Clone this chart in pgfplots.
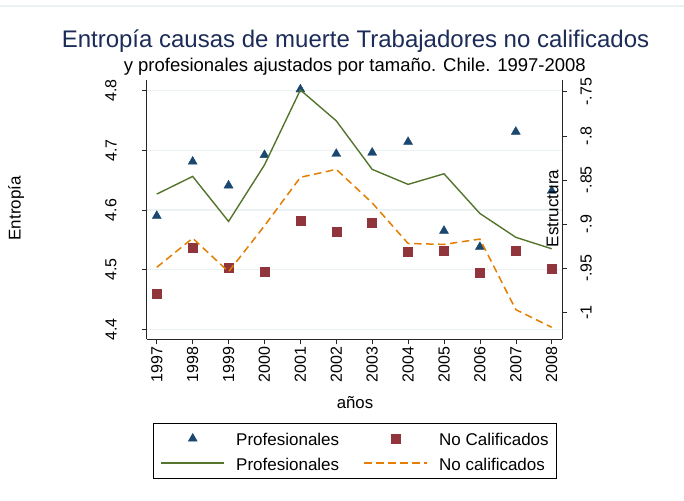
\documentclass[border=0pt]{standalone}
\usepackage{fontspec}
\setmainfont{Liberation Sans}
\usepackage{pgfplots}
\pgfplotsset{compat=1.18}
\definecolor{snavy}{RGB}{26,71,111}
\definecolor{smaroon}{RGB}{144,53,59}
\definecolor{sgreen}{RGB}{85,117,47}
\definecolor{sorange}{RGB}{227,126,0}
\definecolor{sgrid}{RGB}{234,242,243}
\definecolor{stitle}{RGB}{28,44,88}
\pgfplotsset{
  lineleg/.style={legend image code/.code={\draw[##1, line width=1.9pt] (0pt,0.5pt) -- (63pt,0.5pt);}},
  markleg/.style={legend image code/.code={\draw[##1] plot coordinates {(31.5pt,0pt)};}},
  base/.style={scale only axis, width=415.6pt, height=259.3pt,
    at={(146.7pt,160.7pt)}, anchor=south west,
    xmin=1996.72, xmax=2008.295,
    tick align=outside, major tick length=5pt,
    tick style={black!85, line width=0.6pt},
    axis line style={black!85, line width=0.7pt, -},
    /pgf/number format/assume math mode=true,
    ticklabel style={font=\fontsize{16}{18}\selectfont},
  },
}
\begin{document}
\begin{tikzpicture}[x=1pt,y=1pt]
\path[use as bounding box, fill=white] (0,0) rectangle (684,500);
\draw[sgrid, line width=1.2pt] (0,494) -- (684,494);
\begin{axis}[base,
  axis x line*=bottom, axis y line*=left,
  xtick={1997,1998,1999,2000,2001,2002,2003,2004,2005,2006,2007,2008},
  xticklabels={1997,1998,1999,2000,2001,2002,2003,2004,2005,2006,2007,2008},
  xticklabel style={rotate=90, anchor=east, inner sep=2pt},
  ymin=4.3832, ymax=4.8178,
  ytick={4.4,4.5,4.6,4.7,4.8},
  yticklabels={4.4,4.5,4.6,4.7,4.8},
  yticklabel style={rotate=90, anchor=south, inner sep=0pt},
  yticklabel shift=25pt,
  ymajorgrids, major grid style={sgrid, line width=1.5pt},
  clip=false,
]
\addplot[only marks, mark=triangle*, mark size=5.2pt, color=snavy] coordinates {
(1997,4.590) (1998,4.681) (1999,4.641) (2000,4.692) (2001,4.802) (2002,4.694)
(2003,4.696) (2004,4.714) (2005,4.565) (2006,4.538) (2007,4.731) (2008,4.632)};
\addplot[only marks, mark=square*, mark size=4.5pt, color=smaroon] coordinates {
(1997,4.459) (1998,4.537) (1999,4.503) (2000,4.496) (2001,4.582) (2002,4.563)
(2003,4.579) (2004,4.530) (2005,4.532) (2006,4.494) (2007,4.532) (2008,4.501)};
\end{axis}
\begin{axis}[base,
  axis x line=none, axis y line*=right,
  ymin=-1.0306, ymax=-0.7367,
  ytick={-1,-0.95,-0.9,-0.85,-0.8,-0.75},
  yticklabels={-1,-.95,-.9,-.85,-.8,-.75},
  yticklabel style={rotate=90, anchor=north, inner sep=0pt},
  yticklabel shift=13pt,
  legend columns=2,
  legend style={at={(0.5,-0.324)}, anchor=north, draw=black, line width=0.6pt,
    font=\fontsize{17}{19}\selectfont, inner xsep=7.3pt, inner ysep=8.3pt,
    row sep=11.6pt,
    nodes={inner sep=0pt, text height=13.4pt, text depth=0pt},
    /tikz/every odd column/.append style={column sep=11pt},
    /tikz/every even column/.append style={column sep=24pt}},
  legend cell align=left,
]
\addlegendimage{only marks, mark=triangle*, mark size=5pt, color=snavy, markleg}
\addlegendentry{Profesionales}
\addlegendimage{only marks, mark=square*, mark size=4.3pt, color=smaroon, markleg}
\addlegendentry{No Calificados}
\addplot[sgreen, line width=1.4pt, lineleg] coordinates {
(1997,-0.866) (1998,-0.846) (1999,-0.897) (2000,-0.833) (2001,-0.748) (2002,-0.783)
(2003,-0.838) (2004,-0.855) (2005,-0.843) (2006,-0.888) (2007,-0.915) (2008,-0.928)};
\addlegendentry{Profesionales}
\addplot[sorange, line width=1.5pt, dash pattern=on 7.5pt off 4.5pt, lineleg] coordinates {
(1997,-0.949) (1998,-0.916) (1999,-0.954) (2000,-0.902) (2001,-0.847) (2002,-0.838)
(2003,-0.876) (2004,-0.922) (2005,-0.923) (2006,-0.917) (2007,-0.997) (2008,-1.017)};
\addlegendentry{No calificados}
\end{axis}
\node[anchor=base, text=stitle, font=\fontsize{24}{28}\selectfont] at (355.5,452.3) {Entropía causas de muerte Trabajadores no calificados};
\node[anchor=base, font=\fontsize{18.5}{21}\selectfont] at (354.8,428.5) {y profesionales ajustados por tamaño. Chile. 1997-2008};
\node[anchor=base, font=\fontsize{16.8}{19}\selectfont] at (355,91) {años};
\node[anchor=base, rotate=90, font=\fontsize{17}{19}\selectfont] at (20.5,291.7) {Entropía};
\node[anchor=base, rotate=90, font=\fontsize{17}{19}\selectfont] at (558.3,291.5) {Estructura};
\end{tikzpicture}
\end{document}
